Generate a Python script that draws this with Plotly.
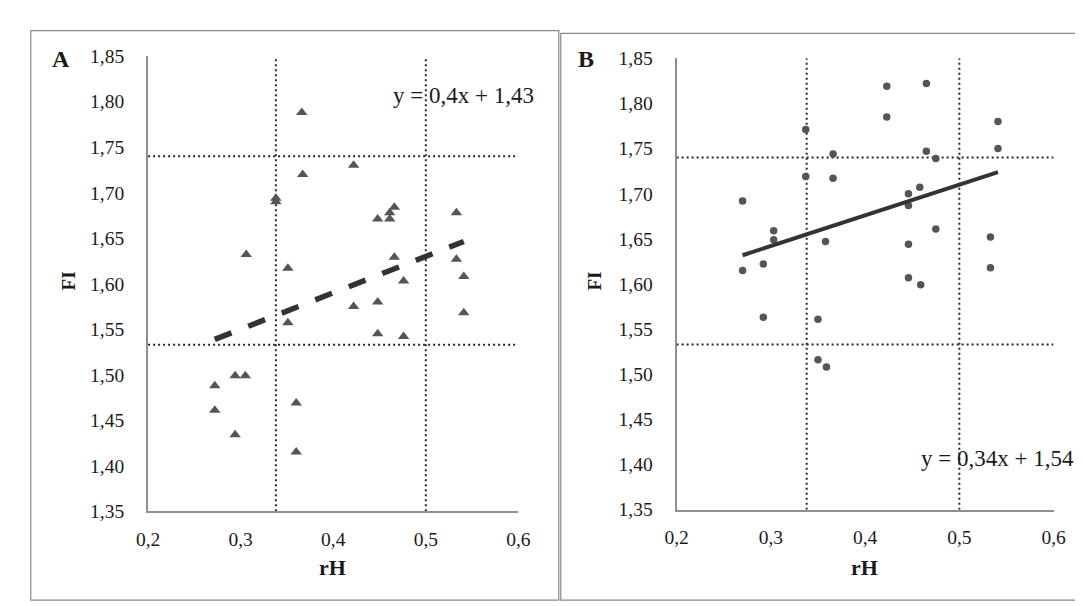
import plotly.graph_objects as go

# ---------------- data ----------------
# Panel A (triangles)
a_rh = [0.366, 0.422, 0.367, 0.338, 0.338, 0.466, 0.461, 0.461, 0.448, 0.533,
        0.306, 0.466, 0.533, 0.351, 0.541, 0.476, 0.422, 0.448, 0.541, 0.351,
        0.448, 0.476, 0.272, 0.294, 0.305, 0.272, 0.294, 0.360, 0.360]
a_fi = [1.788, 1.730, 1.720, 1.694, 1.690, 1.684, 1.678, 1.671, 1.671, 1.678,
        1.632, 1.629, 1.627, 1.617, 1.608, 1.603, 1.575, 1.580, 1.568, 1.557,
        1.545, 1.542, 1.488, 1.499, 1.499, 1.461, 1.434, 1.469, 1.415]

# Panel B (circles)
b_rh = [0.423, 0.465, 0.423, 0.541, 0.541, 0.366, 0.465, 0.475, 0.366, 0.458,
        0.446, 0.446, 0.475, 0.533, 0.358, 0.446, 0.533, 0.446, 0.459, 0.337,
        0.337, 0.270, 0.303, 0.303, 0.270, 0.292, 0.292, 0.350, 0.350, 0.359]
b_fi = [1.819, 1.822, 1.785, 1.780, 1.750, 1.744, 1.747, 1.739, 1.717, 1.707,
        1.700, 1.687, 1.661, 1.652, 1.647, 1.644, 1.618, 1.607, 1.599, 1.771,
        1.719, 1.692, 1.659, 1.649, 1.615, 1.622, 1.563, 1.561, 1.516, 1.508]

# Trend lines (slope, intercept) as printed in the chart
a_slope, a_intercept = 0.4, 1.43
b_slope, b_intercept = 0.34, 1.54
a_eq_text = "y = 0,4x + 1,43"
b_eq_text = "y = 0,34x + 1,54"

# Reference (threshold) lines
v_lines = [0.338, 0.5]
h_lines = [1.533, 1.740]

x_ticks = [0.2, 0.3, 0.4, 0.5, 0.6]
y_ticks = [1.35, 1.40, 1.45, 1.50, 1.55, 1.60, 1.65, 1.70, 1.75, 1.80, 1.85]
x_range = [0.2, 0.6]
y_range = [1.35, 1.85]

# ---------------- layout helpers ----------------
W, H = 1083, 606
def px(x):
    return x / W
def py(y):
    return 1 - y / H

FONT = "Liberation Serif"
TXT = "#1a1a1a"
DOT = "#262626"

fig = go.Figure()

def add_panel(n, xs, ys, sym, msize, slope, intercept, dash, lw):
    xa = "x" if n == 1 else "x2"
    ya = "y" if n == 1 else "y2"
    # threshold lines
    for v in v_lines:
        fig.add_trace(go.Scatter(x=[v, v], y=y_range, mode="lines",
                                 line=dict(color=DOT, width=2, dash="2px,3px"),
                                 xaxis=xa, yaxis=ya, hoverinfo="skip", showlegend=False))
    for h in h_lines:
        fig.add_trace(go.Scatter(x=x_range, y=[h, h], mode="lines",
                                 line=dict(color=DOT, width=2, dash="2px,3px"),
                                 xaxis=xa, yaxis=ya, hoverinfo="skip", showlegend=False))
    # points
    fig.add_trace(go.Scatter(x=xs, y=ys, mode="markers",
                             marker=dict(symbol=sym, size=msize, color="#555555",
                                         line=dict(width=0)),
                             xaxis=xa, yaxis=ya, showlegend=False))
    # trend line
    x0, x1 = min(xs), max(xs)
    fig.add_trace(go.Scatter(x=[x0, x1], y=[slope * x0 + intercept, slope * x1 + intercept],
                             mode="lines", line=dict(color="#333333", width=lw, dash=dash),
                             xaxis=xa, yaxis=ya, hoverinfo="skip", showlegend=False))

add_panel(1, a_rh, a_fi, "triangle-up", 10, a_slope, a_intercept, "18px,18px", 5.5)
add_panel(2, b_rh, b_fi, "circle", 7.5, b_slope, b_intercept, "solid", 4)

axis_common = dict(showgrid=False, zeroline=False, showline=True, linecolor="#8f8f8f",
                   linewidth=2, mirror=False, ticks="outside", tickcolor="rgba(0,0,0,0)",
                   tickfont=dict(family=FONT, size=19.5, color=TXT), fixedrange=True)

fig.update_layout(
    width=W, height=H,
    margin=dict(l=0, r=0, t=0, b=0),
    paper_bgcolor="white", plot_bgcolor="white",
    separators=", ",
    showlegend=False,
    xaxis=dict(axis_common, domain=[px(131), px(509.7)], range=x_range, tickvals=x_ticks,
               tickformat=".1f", ticklen=9, anchor="y"),
    yaxis=dict(axis_common, domain=[py(511), py(39.5)], range=y_range, tickvals=y_ticks,
               tickformat=".2f", ticklen=18, anchor="x"),
    xaxis2=dict(axis_common, domain=[px(671.5), px(1057)], range=x_range, tickvals=x_ticks,
                tickformat=".1f", ticklen=9, anchor="y2"),
    yaxis2=dict(axis_common, domain=[py(509.3), py(41.7)], range=y_range, tickvals=y_ticks,
                tickformat=".2f", ticklen=18, anchor="x2"),
)

# panel borders
fig.add_shape(type="rect", xref="paper", yref="paper",
              x0=px(11), x1=px(551), y0=py(603), y1=py(13),
              line=dict(color="#8a8a8a", width=1.2), fillcolor="rgba(0,0,0,0)")
fig.add_shape(type="rect", xref="paper", yref="paper",
              x0=px(553), x1=px(1090), y0=py(603), y1=py(16),
              line=dict(color="#8a8a8a", width=1.2), fillcolor="rgba(0,0,0,0)")

def ann(text, x, y, size, bold=False, angle=0):
    fig.add_annotation(text=f"<b>{text}</b>" if bold else text, x=px(x), y=py(y),
                       xref="paper", yref="paper", showarrow=False, textangle=angle,
                       xanchor="center", yanchor="middle",
                       font=dict(family=FONT, size=size, color=TXT))

ann("A", 42, 42, 24, bold=True)
ann("B", 579, 42, 24, bold=True)
ann("FI", 50, 272, 19, bold=True, angle=-90)
ann("FI", 588, 272, 19, bold=True, angle=-90)
ann("rH", 320, 569, 22, bold=True)
ann("rH", 864, 569, 22, bold=True)
ann(a_eq_text, 454, 80, 23)
ann(b_eq_text, 1000, 456, 23)

fig.write_html("out.html")
